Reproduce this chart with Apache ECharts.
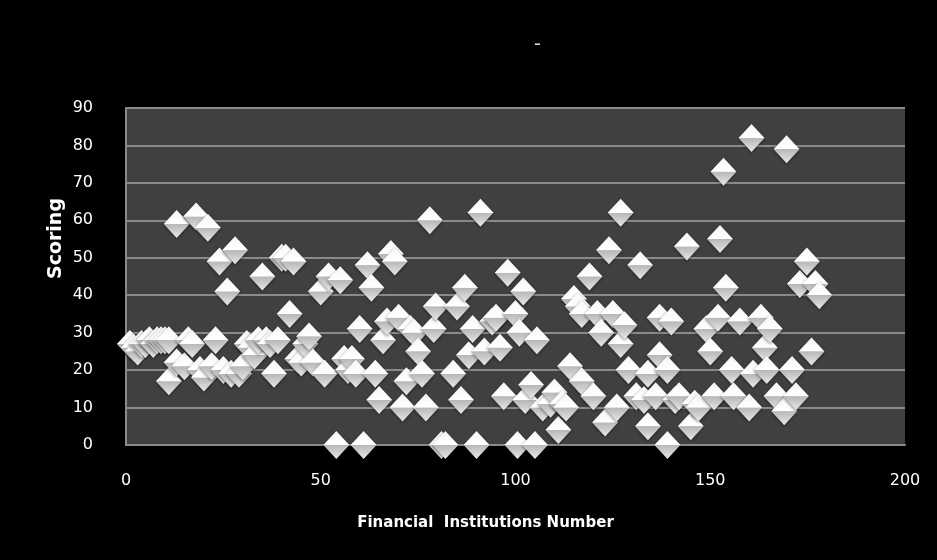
<!DOCTYPE html>
<html>
<head>
<meta charset="UTF-8"/>
<script src="https://cdn.jsdelivr.net/npm/echarts@6/dist/echarts.min.js"></script>
<style>
  html, body { margin: 0; padding: 0; background: #000; }
  #main { width: 937px; height: 560px; }
</style>
</head>
<body>
<div id="main"></div>
<script type="text/javascript">
// institution number (x) and scoring (y)
var instNo = [1, 2, 3, 4, 5, 6, 7, 8, 9, 10, 11,
    11, 13, 13, 15, 16, 17, 18, 19, 20, 21, 22, 23, 24, 25, 26, 27, 28, 29, 30,
    31, 32, 33, 34, 35, 36, 37, 38, 39, 40, 41, 42, 43, 44, 45, 46, 47, 48, 50,
    51, 52, 54, 55, 56, 57, 58, 59, 60, 61, 62, 63, 64, 65, 66, 67, 68, 69, 70,
    71, 72, 73, 74, 75, 76, 77, 78, 79, 79.5, 81, 82, 84, 85, 86, 87, 88, 89, 90,
    91, 92, 94, 95, 96, 97, 98, 100, 100.5, 101, 102, 102.5, 104, 105, 105.5, 107,
    109, 110, 111, 112, 113, 114, 115, 116, 117, 117, 119, 120, 121, 122, 123, 124,
    125, 126, 127, 127, 128, 129, 131, 132, 133, 134, 134, 136, 137, 137, 139, 139,
    140, 141, 142, 144, 145, 146, 147, 149, 150, 151, 152, 152.5, 153.4, 154, 155.5,
    156, 157.6, 160, 160.6, 161, 163, 164, 164.5, 165.3, 167, 169, 169.6, 171, 172,
    173, 174.8, 176, 177, 178];
var scoring = [27, 26, 25, 27, 27, 28, 27, 28, 28, 28, 28,
    17, 59, 22, 21, 28, 27, 61, 20, 18, 58, 21, 28, 49, 20, 41, 19, 52, 19, 21,
    27, 26, 24, 28, 45, 28, 27, 19, 28, 50, 50, 35, 49, 23, 22, 27, 29, 22, 41,
    19, 45, 0, 44, 23, 20, 23, 19, 31, 0, 48, 42, 19, 12, 28, 33, 51, 49, 34,
    10, 17, 31, 30, 25, 19, 10, 60, 31, 37, 0, 0, 19, 37, 12, 42, 24, 31, 0,
    62, 25, 33, 34, 26, 13, 46, 35, 0, 30, 41, 12, 16, 0, 28, 10,
    11, 14, 4, 11, 10, 21, 39, 37, 35, 17, 45, 13, 35, 30, 6, 52,
    35, 10, 62, 27, 32, 20, 13, 48, 12, 5, 19, 13, 24, 34, 0, 20,
    33, 12, 13, 53, 5, 11, 10, 31, 25, 13, 34, 55, 73, 42, 20,
    13, 33, 10, 82, 19, 34, 26, 20, 31, 13, 9, 79, 20, 13,
    43, 49, 25, 43, 40];

var points = [];
for (var i = 0; i < instNo.length; i++) {
    points.push([instNo[i], scoring[i]]);
}

var myChart = echarts.init(document.getElementById('main'));
var option = {
    backgroundColor: '#000000',
    title: {
        text: '-',
        left: 529,
        top: 31,
        textStyle: {color: '#d8d8d8', fontSize: 19, fontWeight: 'normal', fontFamily: 'DejaVu Sans'}
    },
    // y name sits above the grid centre in the original, so place it by hand
    graphic: [{
        type: 'text',
        left: 47,
        top: 198,
        rotation: Math.PI / 2,
        style: {
            text: 'Scoring',
            fill: '#ffffff',
            font: 'bold 19px "DejaVu Sans"'
        }
    }],
    grid: {
        left: 126,
        right: 32,
        top: 108,
        bottom: 115,
        show: true,
        backgroundColor: '#404040',
        borderWidth: 0
    },
    xAxis: {
        type: 'value',
        min: 0,
        max: 200,
        interval: 50,
        name: 'Financial  Institutions Number',
        nameLocation: 'middle',
        nameGap: 71,
        nameTextStyle: {color: '#ffffff', fontSize: 15, fontWeight: 'bold', fontFamily: 'DejaVu Sans', padding: [0, 60, 0, 0]},
        axisLine: {show: true, lineStyle: {color: '#8a8a8a', width: 2}},
        axisTick: {show: false},
        splitLine: {show: false},
        axisLabel: {color: '#ffffff', fontSize: 16, margin: 28, fontFamily: 'DejaVu Sans'}
    },
    yAxis: {
        type: 'value',
        min: 0,
        max: 90,
        interval: 10,
        axisLine: {show: true, lineStyle: {color: '#8a8a8a', width: 2}},
        axisTick: {show: false},
        splitLine: {show: true, lineStyle: {color: '#8a8a8a', width: 2}},
        axisLabel: {color: '#ffffff', fontSize: 16, margin: 33, fontFamily: 'DejaVu Sans'}
    },
    series: [{
        type: 'scatter',
        symbol: 'diamond',
        symbolSize: [26, 28],
        data: points,
        itemStyle: {
            color: new echarts.graphic.LinearGradient(0, 0, 0, 1, [
                {offset: 0, color: '#f6f6f6'},
                {offset: 0.49, color: '#ffffff'},
                {offset: 0.51, color: '#b8b8b8'},
                {offset: 1, color: '#e8e8e8'}
            ]),
            opacity: 1,
            shadowBlur: 3,
            shadowColor: 'rgba(0,0,0,0.5)',
            shadowOffsetY: 1
        }
    }]
};
myChart.setOption(option);
</script>
</body>
</html>
